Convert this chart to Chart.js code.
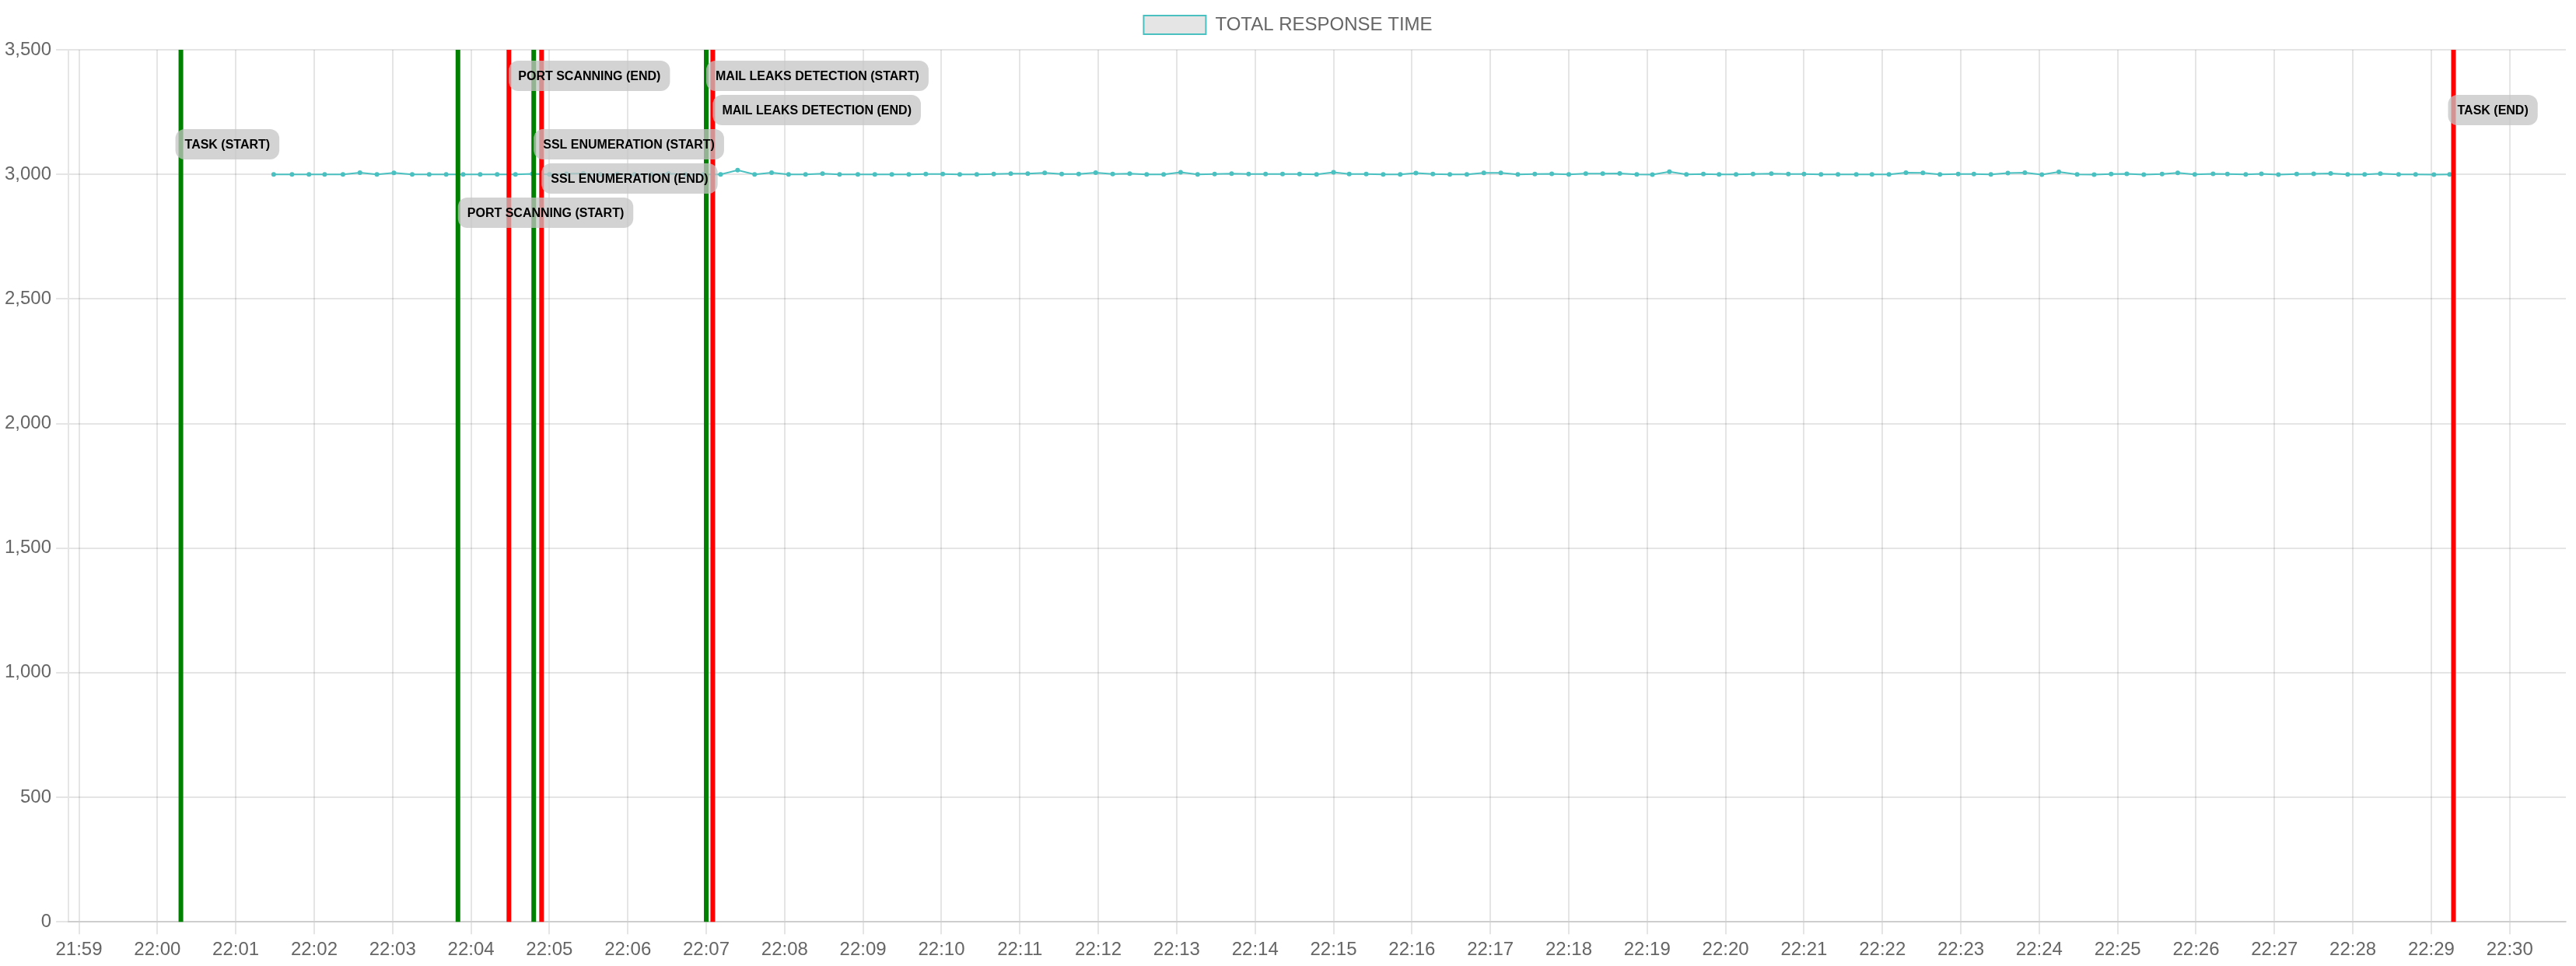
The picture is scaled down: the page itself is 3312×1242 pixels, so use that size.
<!DOCTYPE html>
<html>
<head>
<meta charset="utf-8">
<script src="https://cdn.jsdelivr.net/npm/chart.js@4.4.0/dist/chart.umd.min.js"></script>
<style>
  html, body { margin: 0; padding: 0; background: #fff; overflow: hidden; }
  #wrap {
    position: absolute; left: 0; top: 0;
    width: 1656px; height: 621px;
    transform: scale(2); transform-origin: 0 0;
  }
</style>
</head>
<body>
<div id="wrap"><canvas id="chart"></canvas></div>
<script>
// x axis tick labels (one per minute)
const tickLabels = ['21:59', '22:00', '22:01', '22:02', '22:03', '22:04', '22:05', '22:06', '22:07', '22:08',
  '22:09', '22:10', '22:11', '22:12', '22:13', '22:14', '22:15', '22:16', '22:17', '22:18', '22:19', '22:20',
  '22:21', '22:22', '22:23', '22:24', '22:25', '22:26', '22:27', '22:28', '22:29', '22:30'];
const axisStart = '21:58:52';
const axisEnd = '22:30:43';

// sample times and total response time
const responseTimes = [
  '22:01:29', '22:01:43', '22:01:56', '22:02:08', '22:02:22', '22:02:35', '22:02:48', '22:03:01', '22:03:15', '22:03:28',
  '22:03:41', '22:03:54', '22:04:07', '22:04:20', '22:04:34', '22:04:47', '22:05:00', '22:05:13', '22:05:26', '22:05:39',
  '22:05:52', '22:06:05', '22:06:18', '22:06:31', '22:06:44', '22:06:58', '22:07:11', '22:07:24', '22:07:37', '22:07:50',
  '22:08:03', '22:08:16', '22:08:29', '22:08:42', '22:08:56', '22:09:09', '22:09:22', '22:09:35', '22:09:48', '22:10:01',
  '22:10:14', '22:10:27', '22:10:40', '22:10:53', '22:11:06', '22:11:19', '22:11:32', '22:11:45', '22:11:58', '22:12:11',
  '22:12:24', '22:12:37', '22:12:50', '22:13:03', '22:13:16', '22:13:29', '22:13:42', '22:13:55', '22:14:08', '22:14:21',
  '22:14:34', '22:14:47', '22:15:00', '22:15:12', '22:15:25', '22:15:38', '22:15:51', '22:16:03', '22:16:16', '22:16:29',
  '22:16:42', '22:16:55', '22:17:08', '22:17:21', '22:17:34', '22:17:47', '22:18:00', '22:18:13', '22:18:26', '22:18:39',
  '22:18:52', '22:19:04', '22:19:17', '22:19:30', '22:19:43', '22:19:55', '22:20:08', '22:20:21', '22:20:35', '22:20:48',
  '22:21:00', '22:21:13', '22:21:26', '22:21:40', '22:21:52', '22:22:05', '22:22:18', '22:22:31', '22:22:44', '22:22:58',
  '22:23:10', '22:23:23', '22:23:36', '22:23:49', '22:24:02', '22:24:15', '22:24:29', '22:24:42', '22:24:55', '22:25:07',
  '22:25:20', '22:25:34', '22:25:46', '22:25:59', '22:26:13', '22:26:24', '22:26:38', '22:26:50', '22:27:03', '22:27:17',
  '22:27:30', '22:27:43', '22:27:56', '22:28:09', '22:28:21', '22:28:35', '22:28:48', '22:29:02', '22:29:14'
];
const responseValues = [
  3000, 3000, 3000, 3000, 3000, 3007, 3000, 3006, 3000, 3000,
  3000, 3000, 3000, 3000, 3000, 3002, 3000, 3002, 3004, 3000,
  3001, 3000, 3000, 3003, 3000, 3000, 3000, 3017, 3000, 3007,
  3000, 3000, 3003, 3000, 3000, 3000, 3000, 3000, 3001, 3001,
  3000, 3000, 3001, 3003, 3003, 3006, 3001, 3001, 3007, 3001,
  3003, 3000, 3000, 3008, 3000, 3001, 3003, 3001, 3001, 3001,
  3001, 3000, 3008, 3001, 3001, 3000, 3000, 3005, 3001, 3000,
  3000, 3006, 3006, 3000, 3001, 3002, 3000, 3003, 3003, 3004,
  3000, 2999, 3011, 3000, 3001, 3000, 3000, 3001, 3003, 3001,
  3001, 3000, 3000, 3000, 3000, 3000, 3007, 3006, 3000, 3001,
  3001, 3000, 3005, 3007, 2999, 3010, 3000, 2999, 3001, 3002,
  2999, 3001, 3006, 3000, 3002, 3001, 3000, 3002, 2999, 3001,
  3002, 3004, 3000, 3000, 3003, 3000, 3000, 2999, 3000
];

// task phase markers
const eventNames = ['TASK (START)', 'PORT SCANNING (START)', 'PORT SCANNING (END)', 'SSL ENUMERATION (START)',
  'SSL ENUMERATION (END)', 'MAIL LEAKS DETECTION (START)', 'MAIL LEAKS DETECTION (END)', 'TASK (END)'];
const eventTimes = ['22:00:18', '22:03:50', '22:04:29', '22:04:48', '22:04:54', '22:07:00', '22:07:05', '22:29:17'];

// label placement: row from the top of the chart, and a small sideways nudge
const labelRows = [2, 4, 0, 2, 3, 0, 1, 1];
const labelShift = [-3.5, 0, 0, 0, 0, 0, 0, -3.5];

const toSec = (t) => {
  const p = t.split(':').map(Number);
  return p[0] * 3600 + p[1] * 60 + (p[2] || 0);
};
const pad = (n) => String(n).padStart(2, '0');
const fmtMin = (s) => pad(Math.floor(s / 3600)) + ':' + pad(Math.floor((s % 3600) / 60));

const markerPlugin = {
  id: 'markers',
  afterDatasetsDraw(chart) {
    const { ctx, chartArea, scales } = chart;
    const xs = eventTimes.map((t) => scales.x.getPixelForValue(toSec(t)));

    ctx.save();
    // vertical lines first
    eventNames.forEach((name, i) => {
      ctx.beginPath();
      ctx.strokeStyle = name.includes('(START)') ? 'green' : 'red';
      ctx.lineWidth = 3;
      ctx.moveTo(xs[i], chartArea.top);
      ctx.lineTo(xs[i], chartArea.bottom);
      ctx.stroke();
    });

    // then the labels on top
    ctx.font = 'bold 8px Arial, "Liberation Sans", sans-serif';
    ctx.textBaseline = 'middle';
    ctx.textAlign = 'left';
    eventNames.forEach((name, i) => {
      const w = ctx.measureText(name).width + 12;
      const h = 19.5;
      const left = xs[i] + labelShift[i];
      const top = chartArea.top + 7 + labelRows[i] * 22;
      ctx.fillStyle = 'rgba(196,196,196,0.75)';
      ctx.beginPath();
      ctx.roundRect(left, top, w, h, 6);
      ctx.fill();
      ctx.fillStyle = '#000';
      ctx.fillText(name, left + 6, top + h / 2 + 0.5);
    });
    ctx.restore();
  }
};

Chart.defaults.font.family = 'Arial, "Liberation Sans", sans-serif';
Chart.defaults.color = '#666';

new Chart(document.getElementById('chart'), {
  type: 'line',
  data: {
    datasets: [{
      label: 'TOTAL RESPONSE TIME',
      data: responseTimes.map((t, i) => ({ x: toSec(t), y: responseValues[i] })),
      borderColor: 'rgb(75, 192, 192)',
      backgroundColor: 'rgba(0, 0, 0, 0.1)',
      pointBackgroundColor: 'rgb(75, 192, 192)',
      pointBorderColor: 'rgb(75, 192, 192)',
      borderWidth: 1,
      pointRadius: 1,
      pointBorderWidth: 1,
      tension: 0,
    }],
  },
  options: {
    devicePixelRatio: 2,
    responsive: true,
    maintainAspectRatio: false,
    animation: false,
    plugins: {
      legend: { labels: { boxWidth: 40 } },
      tooltip: { enabled: false },
    },
    scales: {
      x: {
        type: 'linear',
        min: toSec(axisStart),
        max: toSec(axisEnd),
        afterBuildTicks: (axis) => {
          axis.ticks = tickLabels.map((l) => ({ value: toSec(l) }));
        },
        ticks: {
          autoSkip: false,
          maxRotation: 0,
          callback: (v) => fmtMin(v),
        },
      },
      y: {
        min: 0,
        max: 3500,
        ticks: {
          stepSize: 500,
          callback: (v) => v.toLocaleString('en-US'),
        },
      },
      // empty spacer on the right so the plot stops short of the edge
      spacer: {
        position: 'right',
        grid: { display: false, drawTicks: false },
        border: { display: false },
        ticks: { display: false },
        afterFit: (axis) => { axis.width = 6.5; },
      },
    },
  },
  plugins: [markerPlugin],
});
</script>
</body>
</html>
